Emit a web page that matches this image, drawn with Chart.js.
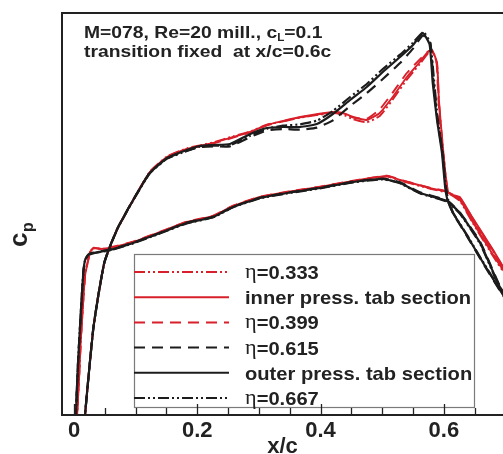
<!DOCTYPE html>
<html>
<head>
<meta charset="utf-8">
<script src="https://cdn.jsdelivr.net/npm/chart.js@4.4.0/dist/chart.umd.min.js"></script>
<style>
  html, body { margin: 0; padding: 0; background: #fff; overflow: hidden; }
  #wrap { width: 503px; height: 454px; }
</style>
</head>
<body>
<div id="wrap"><canvas id="cpChart"></canvas></div>
<script>
// x/c range shown and the labelled ticks
const xRange = [-0.0195, 0.696];
const xTickLabels = ['0', '0.2', '0.4', '0.6'];
const seriesLabels = ['\u03b7=0.333', 'inner press. tab section', '\u03b7=0.399',
                      '\u03b7=0.615', 'outer press. tab section', '\u03b7=0.667'];

// [x/c, cp] — lower surface from trailing side to nose, then upper surface
const eta333 = [
  [0.707,0.212],[0.680,0.060],[0.647,-0.140],[0.626,-0.272],[0.605,-0.322],[0.577,-0.346],[0.529,-0.395],[0.508,-0.418],
  [0.453,-0.390],[0.399,-0.354],[0.346,-0.324],[0.302,-0.294],[0.258,-0.240],[0.226,-0.180],[0.183,-0.144],[0.140,-0.084],
  [0.096,-0.024],[0.058,0.012],[0.042,0.014],[0.032,0.012],[0.026,0.036],[0.023,0.084],[0.018,0.175],[0.015,0.325],
  [0.011,0.565],[0.008,0.805],[0.005,1.012],[0.004,1.2],[0.009,1.4],
  [0.017,1.2],[0.018,1.012],[0.023,0.800],[0.031,0.500],[0.039,0.302],[0.049,0.098],[0.058,0.002],[0.071,-0.112],
  [0.096,-0.280],[0.123,-0.448],[0.151,-0.540],[0.183,-0.588],[0.204,-0.606],[0.226,-0.624],[0.258,-0.660],[0.286,-0.690],
  [0.313,-0.730],[0.339,-0.750],[0.367,-0.772],[0.420,-0.800],[0.436,-0.790],[0.453,-0.762],[0.475,-0.744],[0.496,-0.782],
  [0.517,-0.880],[0.540,-1.000],[0.561,-1.094],[0.575,-1.160],[0.582,-1.172],[0.589,-1.090],[0.592,-0.870],[0.597,-0.650],
  [0.602,-0.455],[0.607,-0.322],[0.615,-0.305],[0.626,-0.290],[0.647,-0.160],[0.680,0.030],[0.707,0.200]
];
const innerTab = [
  [0.707,0.202],[0.680,0.052],[0.647,-0.146],[0.626,-0.278],[0.605,-0.326],[0.577,-0.350],[0.529,-0.398],[0.508,-0.422],
  [0.453,-0.392],[0.399,-0.356],[0.346,-0.326],[0.302,-0.296],[0.258,-0.242],[0.226,-0.182],[0.183,-0.146],[0.140,-0.086],
  [0.096,-0.026],[0.058,0.010],[0.042,0.016],[0.032,0.010],[0.026,0.034],[0.023,0.082],[0.018,0.172],[0.015,0.322],
  [0.011,0.562],[0.008,0.802],[0.005,1.012],[0.004,1.2],[0.009,1.4],
  [0.017,1.2],[0.018,1.012],[0.023,0.802],[0.031,0.502],[0.039,0.304],[0.049,0.100],[0.058,0.004],[0.071,-0.110],
  [0.096,-0.278],[0.123,-0.446],[0.151,-0.536],[0.183,-0.584],[0.204,-0.602],[0.226,-0.620],[0.258,-0.656],[0.286,-0.686],
  [0.313,-0.728],[0.339,-0.752],[0.367,-0.776],[0.420,-0.806],[0.436,-0.800],[0.453,-0.776],[0.475,-0.758],[0.496,-0.800],
  [0.517,-0.896],[0.540,-1.016],[0.561,-1.106],[0.574,-1.166],[0.581,-1.178],[0.589,-1.100],[0.592,-0.878],[0.597,-0.656],
  [0.602,-0.458],[0.607,-0.326],[0.615,-0.308],[0.626,-0.296],[0.647,-0.170],[0.680,0.022],[0.707,0.190]
];
const eta399 = [
  [0.707,0.196],[0.680,0.046],[0.647,-0.150],[0.626,-0.282],[0.605,-0.330],[0.577,-0.352],[0.529,-0.400],[0.508,-0.424],
  [0.453,-0.394],[0.399,-0.358],[0.346,-0.328],[0.302,-0.298],[0.258,-0.244],[0.226,-0.184],[0.183,-0.148],[0.140,-0.088],
  [0.096,-0.028],[0.058,0.008],[0.042,0.014],[0.032,0.008],[0.026,0.032],[0.023,0.080],[0.018,0.170],[0.015,0.320],
  [0.011,0.560],[0.008,0.800],[0.005,1.012],[0.004,1.2],[0.009,1.4],
  [0.017,1.2],[0.018,1.012],[0.023,0.804],[0.031,0.504],[0.039,0.306],[0.049,0.102],[0.058,0.006],[0.071,-0.108],
  [0.096,-0.276],[0.123,-0.444],[0.151,-0.534],[0.183,-0.582],[0.204,-0.600],[0.226,-0.618],[0.258,-0.652],[0.286,-0.684],
  [0.313,-0.726],[0.339,-0.750],[0.367,-0.774],[0.420,-0.804],[0.436,-0.796],[0.453,-0.772],[0.475,-0.766],[0.496,-0.822],
  [0.517,-0.922],[0.540,-1.040],[0.561,-1.122],[0.574,-1.168],[0.580,-1.178],[0.588,-1.110],[0.591,-0.890],[0.596,-0.660],
  [0.601,-0.460],[0.606,-0.328],[0.615,-0.310],[0.626,-0.292],[0.647,-0.166],[0.680,0.026],[0.707,0.194]
];
const eta615 = [
  [0.707,0.316],[0.691,0.238],[0.659,-0.026],[0.626,-0.204],[0.605,-0.276],[0.561,-0.324],[0.529,-0.384],[0.501,-0.406],
  [0.453,-0.388],[0.399,-0.352],[0.346,-0.322],[0.302,-0.292],[0.258,-0.238],[0.226,-0.178],[0.183,-0.142],[0.140,-0.082],
  [0.096,-0.022],[0.058,0.020],[0.031,0.038],[0.023,0.050],[0.018,0.080],[0.015,0.158],[0.011,0.398],[0.0065,0.700],
  [0.003,1.012],[0.002,1.2],[0.008,1.4],
  [0.016,1.2],[0.018,1.012],[0.023,0.800],[0.031,0.500],[0.039,0.302],[0.049,0.098],[0.058,0.002],[0.071,-0.112],
  [0.096,-0.280],[0.123,-0.442],[0.151,-0.528],[0.183,-0.574],[0.204,-0.596],[0.226,-0.600],[0.253,-0.600],[0.286,-0.656],
  [0.313,-0.696],[0.339,-0.704],[0.367,-0.700],[0.394,-0.712],[0.420,-0.756],[0.448,-0.842],[0.475,-0.920],[0.501,-1.004],
  [0.529,-1.100],[0.550,-1.186],[0.566,-1.266],[0.578,-1.220],[0.583,-0.990],[0.590,-0.750],[0.598,-0.555],[0.603,-0.358],
  [0.607,-0.276],[0.615,-0.198],[0.638,-0.058],[0.663,0.098],[0.691,0.266],[0.707,0.356]
];
const outerTab = [
  [0.707,0.322],[0.691,0.244],[0.659,-0.020],[0.626,-0.200],[0.605,-0.272],[0.561,-0.320],[0.529,-0.380],[0.501,-0.404],
  [0.453,-0.386],[0.399,-0.350],[0.346,-0.320],[0.302,-0.290],[0.258,-0.236],[0.226,-0.176],[0.183,-0.140],[0.140,-0.080],
  [0.096,-0.020],[0.058,0.022],[0.031,0.040],[0.023,0.052],[0.018,0.082],[0.015,0.160],[0.011,0.400],[0.0065,0.700],
  [0.003,1.012],[0.002,1.2],[0.008,1.4],
  [0.016,1.2],[0.018,1.012],[0.023,0.802],[0.031,0.502],[0.039,0.304],[0.049,0.100],[0.058,0.004],[0.071,-0.110],
  [0.096,-0.278],[0.123,-0.440],[0.151,-0.530],[0.183,-0.578],[0.204,-0.602],[0.226,-0.608],[0.253,-0.614],[0.286,-0.674],
  [0.313,-0.710],[0.339,-0.716],[0.367,-0.716],[0.394,-0.734],[0.420,-0.794],[0.448,-0.878],[0.475,-0.956],[0.501,-1.046],
  [0.529,-1.136],[0.550,-1.208],[0.566,-1.280],[0.577,-1.210],[0.582,-0.980],[0.589,-0.758],[0.597,-0.560],[0.602,-0.360],
  [0.606,-0.278],[0.615,-0.200],[0.638,-0.062],[0.663,0.094],[0.691,0.262],[0.707,0.352]
];
const eta667 = [
  [0.707,0.328],[0.691,0.250],[0.659,-0.014],[0.626,-0.196],[0.605,-0.268],[0.561,-0.318],[0.529,-0.378],[0.501,-0.402],
  [0.453,-0.384],[0.399,-0.348],[0.346,-0.318],[0.302,-0.288],[0.258,-0.234],[0.226,-0.174],[0.183,-0.138],[0.140,-0.078],
  [0.096,-0.018],[0.058,0.024],[0.031,0.042],[0.023,0.054],[0.018,0.084],[0.015,0.162],[0.011,0.402],[0.0065,0.702],
  [0.003,1.012],[0.002,1.2],[0.008,1.4],
  [0.016,1.2],[0.018,1.012],[0.023,0.804],[0.031,0.504],[0.039,0.306],[0.049,0.102],[0.058,0.006],[0.071,-0.108],
  [0.096,-0.276],[0.123,-0.438],[0.151,-0.526],[0.183,-0.572],[0.204,-0.598],[0.226,-0.604],[0.253,-0.606],[0.286,-0.664],
  [0.313,-0.706],[0.339,-0.724],[0.367,-0.732],[0.394,-0.754],[0.420,-0.812],[0.448,-0.896],[0.475,-0.974],[0.501,-1.064],
  [0.529,-1.150],[0.550,-1.222],[0.567,-1.286],[0.578,-1.220],[0.584,-1.000],[0.590,-0.770],[0.598,-0.566],[0.603,-0.362],
  [0.607,-0.280],[0.615,-0.202],[0.638,-0.066],[0.663,0.090],[0.691,0.258],[0.707,0.348]
];

const RED = '#d8202a';
const BLK = '#1c1c1c';
const DASH = [11, 7];
const DASHDOT2 = [11, 3, 2, 3, 2, 3];

function line(label, pts, color, dash, order) {
  return {
    label: label,
    data: pts.map(p => ({ x: p[0], y: p[1] })),
    borderColor: color,
    borderWidth: color === BLK ? 2.2 : 1.9,
    borderDash: dash,
    showLine: true,
    pointRadius: 0,
    tension: 0.15,
    order: order
  };
}

const datasets = [
  line(seriesLabels[0], eta333, RED, DASHDOT2, 3),
  line(seriesLabels[1], innerTab, RED, [], 3),
  line(seriesLabels[2], eta399, RED, DASH, 3),
  line(seriesLabels[3], eta615, BLK, DASH, 1),
  line(seriesLabels[4], outerTab, BLK, [], 1),
  line(seriesLabels[5], eta667, BLK, DASHDOT2, 1)
];

function stretchText(ctx, parts, x, y, sx) {
  ctx.save();
  ctx.translate(x, y);
  ctx.scale(sx, 1);
  let cx = 0;
  parts.forEach(p => {
    ctx.font = p.font;
    ctx.fillText(p.t, cx, p.dy || 0);
    cx += ctx.measureText(p.t).width;
  });
  ctx.restore();
}

const decor = {
  id: 'decor',
  afterDatasetsDraw(chart) {
    const ctx = chart.ctx;
    const a = chart.chartArea;
    const xs = chart.scales.x;
    ctx.save();
    ctx.fillStyle = '#222';
    ctx.strokeStyle = '#222';

    // legend box
    const lx = 134, ly = 254, lw = 340, lh = 153;
    ctx.lineWidth = 1.2;
    ctx.strokeStyle = '#7a7a7a';
    ctx.strokeRect(lx + 0.5, ly + 0.5, lw, lh);
    chart.data.datasets.forEach((ds, i) => {
      const ry = 272 + i * 25.2;
      ctx.beginPath();
      ctx.setLineDash(ds.borderDash);
      ctx.strokeStyle = ds.borderColor;
      ctx.lineWidth = 2;
      ctx.moveTo(lx, ry);
      ctx.lineTo(lx + 95, ry);
      ctx.stroke();
      ctx.setLineDash([]);
      ctx.fillStyle = '#222';
      ctx.textBaseline = 'alphabetic';
      const txt = ds.label;
      const parts = txt.charAt(0) === '\u03b7'
        ? [{ t: '\u03b7', font: '21px "Liberation Serif"', dy: -1 }, { t: txt.slice(1), font: 'bold 19px "Liberation Sans"' }]
        : [{ t: txt, font: 'bold 19px "Liberation Sans"' }];
      stretchText(ctx, parts, 245, ry + 7, 1.06);
    });

    // frame
    ctx.strokeStyle = '#222';
    ctx.lineWidth = 2;
    ctx.beginPath();
    ctx.moveTo(a.right + 2, a.top);
    ctx.lineTo(a.left, a.top);
    ctx.lineTo(a.left, a.bottom);
    ctx.lineTo(a.right + 2, a.bottom);
    ctx.stroke();

    // inward ticks on x axis
    ctx.lineWidth = 1.3;
    for (let k = 0; k <= 13; k++) {
      const v = k * 0.05;
      const px = Math.round(xs.getPixelForValue(v)) + 0.5;
      const len = (k % 4 === 0) ? 11 : 7;
      ctx.beginPath();
      ctx.moveTo(px, a.bottom);
      ctx.lineTo(px, a.bottom - len);
      ctx.stroke();
    }

    // annotation text
    ctx.fillStyle = '#222';
    ctx.textBaseline = 'alphabetic';
    stretchText(ctx, [
      { t: 'M=078, Re=20 mill., c', font: 'bold 16.5px "Liberation Sans"' },
      { t: 'L', font: 'bold 10px "Liberation Sans"', dy: 3 },
      { t: '=0.1', font: 'bold 16.5px "Liberation Sans"' }
    ], 84, 38, 1.17);
    stretchText(ctx, [
      { t: 'transition fixed  at x/c=0.6c', font: 'bold 16.5px "Liberation Sans"' }
    ], 84, 57, 1.17);

    // y axis label c_p, rotated
    ctx.save();
    ctx.translate(27, 247);
    ctx.rotate(-Math.PI / 2);
    ctx.font = 'bold 26px "Liberation Sans"';
    ctx.fillText('c', 0, 0);
    const cw = ctx.measureText('c').width;
    ctx.font = 'bold 16px "Liberation Sans"';
    ctx.fillText('p', cw + 0.5, 6);
    ctx.restore();

    ctx.restore();
  }
};

new Chart(document.getElementById('cpChart'), {
  type: 'scatter',
  data: { datasets: datasets },
  options: {
    responsive: true,
    maintainAspectRatio: false,
    animation: false,
    layout: { padding: { left: 62, top: 13, right: 0, bottom: 0 } },
    plugins: { legend: { display: false }, tooltip: { enabled: false } },
    scales: {
      x: {
        type: 'linear',
        min: xRange[0],
        max: xRange[1],
        afterFit: s => { s.height = 39; },
        grid: { display: false, drawTicks: false },
        border: { display: false },
        ticks: {
          stepSize: 0.05,
          includeBounds: false,
          autoSkip: false,
          maxRotation: 0,
          padding: 3,
          color: '#222',
          font: { family: '"Liberation Sans"', size: 22, weight: 'bold' },
          callback: v => {
            const k = Math.round(v * 100);
            if (Math.abs(v * 100 - k) > 1e-6 || k % 20 !== 0 || k < 0) return '';
            return xTickLabels[k / 20] || '';
          }
        },
        title: {
          display: true,
          text: 'x/c',
          color: '#222',
          padding: { top: 0, bottom: -4 },
          font: { family: '"Liberation Sans"', size: 22, weight: 'bold', lineHeight: 1.0 }
        }
      },
      y: {
        type: 'linear',
        display: false,
        reverse: true,
        min: -1.4,
        max: 1.012
      }
    }
  },
  plugins: [decor]
});
</script>
</body>
</html>
